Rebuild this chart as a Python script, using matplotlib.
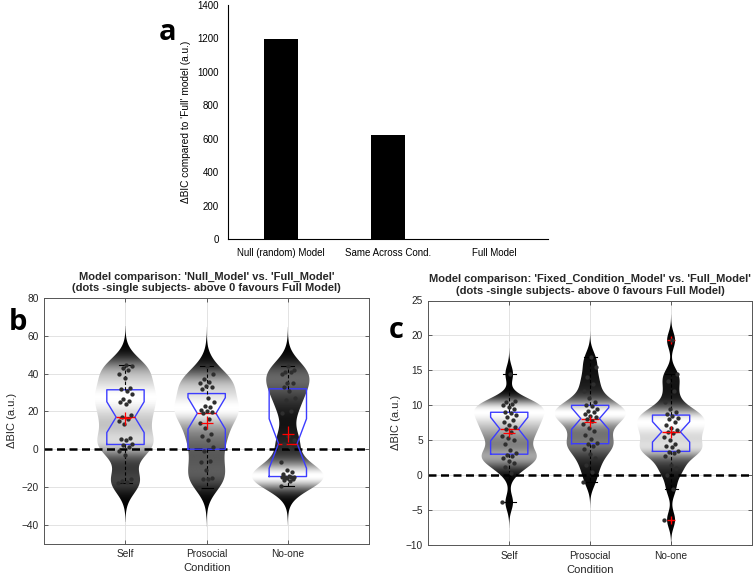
import numpy as np
import matplotlib
matplotlib.use('Agg')
import matplotlib.pyplot as plt
from matplotlib.patches import Polygon

plt.rcParams['font.family'] = ['Liberation Sans', 'DejaVu Sans']

# ---------------- data ----------------
# panel a
models = ['Null (random) Model', 'Same Across Cond.', 'Full Model']
delta_bic_total = [1195, 623, 0]
a_yticks = [0, 200, 400, 600, 800, 1000, 1200, 1400]

conditions = ['Self', 'Prosocial', 'No-one']

# panel b : Null_Model vs Full_Model (single subjects)
null_self = [-18, -17.5, -17, -16, -3, -1, 1, 2, 3, 5, 5.5, 6, 13.5, 15, 16, 17,
             18, 24, 25, 25.5, 26.5, 29, 31, 32, 32.5, 38, 40, 42, 43, 44, 44.5]
null_prosocial = [-20.5, -16, -16, -15.5, -11, -7, -6, -1, 1, 5, 7, 8, 11, 14, 16, 19,
                  19.5, 20, 21, 22.5, 23, 25, 27, 32, 33, 33.5, 35, 35.5, 37, 40, 44]
null_noone = [-19.5, -17, -16.5, -16, -15.5, -15, -15, -14.5, -14.5, -14, -13, -12, -11, -7,
              1, 3, 5, 7, 19, 20, 26, 27, 31, 33, 35, 35, 40, 41, 41, 42, 44]
b_yticks = [-40, -20, 0, 20, 40, 60, 80]

# panel c : Fixed_Condition_Model vs Full_Model
fixed_self = [-3.9, 0.3, 1.2, 1.8, 2.0, 2.5, 2.7, 2.9, 3.1, 3.6, 4.5, 5.0, 5.3, 5.6, 6.2, 6.6,
              6.9, 7.2, 7.6, 7.9, 8.3, 8.6, 8.9, 9.1, 9.5, 9.8, 10.0, 10.2, 10.5, 10.6, 14.5]
fixed_prosocial = [-1.0, 0.5, 1.5, 2.5, 3.0, 3.8, 4.2, 4.4, 4.6, 5.2, 5.8, 6.3, 6.8, 7.3, 7.8, 8.1,
                   8.3, 8.5, 8.8, 9.0, 9.2, 9.5, 9.9, 10.1, 10.4, 11.0, 12.0, 13.0, 14.0, 15.5, 16.9]
fixed_noone = [-6.4, -2.0, 0.0, 1.0, 1.5, 2.8, 3.2, 3.3, 3.5, 4.0, 4.2, 4.4, 5.0, 5.5, 6.0, 6.2,
               6.5, 6.8, 7.2, 7.6, 8.0, 8.2, 8.5, 8.7, 9.0, 9.5, 10.5, 12.0, 13.5, 14.5, 19.3]
c_yticks = [-10, -5, 0, 5, 10, 15, 20, 25]

title_b = "Model comparison: 'Null_Model' vs. 'Full_Model'\n(dots -single subjects- above 0 favours Full Model)"
title_c = "Model comparison: 'Fixed_Condition_Model' vs. 'Full_Model'\n(dots -single subjects- above 0 favours Full Model)"

# ---------------- figure ----------------
W, H = 754, 576
fig = plt.figure(figsize=(W / 100, H / 100), dpi=100)


def ax_px(l, t, r, b):
    return fig.add_axes([l / W, 1 - b / H, (r - l) / W, (b - t) / H])


TXT = '#262626'

# ---- panel a ----
axA = ax_px(227.5, 5, 548, 239.3)
xa = np.arange(1, len(models) + 1)
axA.bar(xa, delta_bic_total, width=0.32, color='black')
axA.set_xlim(0.5, 3.5)
axA.set_ylim(0, 1400)
axA.set_yticks(a_yticks)
axA.set_xticks(xa)
axA.set_xticklabels(models)
axA.tick_params(length=0, labelsize=7, colors='black', pad=6)
for s in ['top', 'right']:
    axA.spines[s].set_visible(False)
for s in ['left', 'bottom']:
    axA.spines[s].set_linewidth(0.8)
axA.set_ylabel("ΔBIC compared to 'Full' model (a.u.)", fontsize=7.3, labelpad=5)


def draw_panel(ax, datasets, bw, ylim, yticks, title):
    ax.set_axisbelow(True)
    ax.grid(True, color='#dedede', lw=0.6)
    dens = []
    for d in datasets:
        d = np.asarray(d, float)
        y = np.linspace(d.min() - 3.2 * bw, d.max() + 3.2 * bw, 500)
        k = np.exp(-0.5 * ((y[:, None] - d[None, :]) / bw) ** 2).sum(1) / (len(d) * bw * np.sqrt(2 * np.pi))
        dens.append((y, k))
    kpanel = max(k.max() for _, k in dens)
    for i, (y, k) in enumerate(dens):
        x0 = i + 1
        w = 0.44 * k / (k.max() ** 0.6 * kpanel ** 0.4)
        verts = np.concatenate([np.column_stack([x0 - w, y]),
                                np.column_stack([x0 + w[::-1], y[::-1]])])
        poly = Polygon(verts, closed=True, facecolor='none', edgecolor='none')
        ax.add_patch(poly)
        g = (k / k.max()) ** 1.8
        img = np.tile(g[:, None], (1, 2))
        im = ax.imshow(img, extent=[x0 - w.max(), x0 + w.max(), y[0], y[-1]], origin='lower',
                       aspect='auto', cmap='gray', vmin=0, vmax=1, interpolation='bilinear', zorder=1)
        im.set_clip_path(poly)

    ax.axhline(0, color='black', lw=1.8, ls=(0, (3.2, 1.8)), zorder=2)

    ax.boxplot(datasets, positions=[1, 2, 3], widths=0.46, notch=True, whis=1.5,
               capwidths=0.16, manage_ticks=False, zorder=3,
               boxprops=dict(color='#3c3cff', lw=1),
               medianprops=dict(color='red', lw=1),
               whiskerprops=dict(color='black', lw=0.8, ls=(0, (3, 2))),
               capprops=dict(color='black', lw=0.8),
               flierprops=dict(marker='+', markeredgecolor='red', markersize=6, mew=1))

    golden = 0.6180339887
    for i, d in enumerate(datasets):
        d = np.asarray(d, float)
        n = len(d)
        jit = 0.09 * (((np.arange(n) * golden) % 1.0) * 2 - 1)
        ax.plot(i + 1 + jit, d, 'o', color='#2e2e2e', markersize=3.1, mew=0, zorder=4)
        m = d.mean()
        sem = d.std(ddof=1) / np.sqrt(n)
        ax.errorbar(i + 1, m, yerr=sem, fmt='_', color='red', markersize=9, mew=0.9,
                    elinewidth=0.9, capsize=0, zorder=5)

    ax.set_xlim(0, 4)
    ax.set_ylim(*ylim)
    ax.set_yticks(yticks)
    ax.set_xticks([1, 2, 3])
    ax.set_xticklabels(conditions)
    ax.tick_params(direction='in', length=3, labelsize=7.3, colors=TXT, top=True, right=True,
                   width=0.5, pad=4)
    for s in ax.spines.values():
        s.set_color('#555555')
        s.set_linewidth(0.7)
    ax.set_title(title, fontsize=8, fontweight='bold', color=TXT, pad=5, linespacing=1.2)
    ax.set_xlabel('Condition', fontsize=8, color=TXT, labelpad=3)
    ax.set_ylabel('ΔBIC (a.u.)', fontsize=8, color=TXT, labelpad=3)


axB = ax_px(44.3, 298.3, 369, 543.5)
draw_panel(axB, [null_self, null_prosocial, null_noone], 6.5, (-50, 80), b_yticks, title_b)

axC = ax_px(428.3, 300.5, 752, 545)
draw_panel(axC, [fixed_self, fixed_prosocial, fixed_noone], 1.15, (-10, 25), c_yticks, title_c)

# panel letters
for lab, (px, py) in {'a': (168, 33), 'b': (18, 322), 'c': (396, 330)}.items():
    fig.text(px / W, 1 - py / H, lab, fontsize=21, fontweight='bold', family='Open Sans',
             ha='center', va='center', color='black')

fig.savefig('out.png', dpi=100)
